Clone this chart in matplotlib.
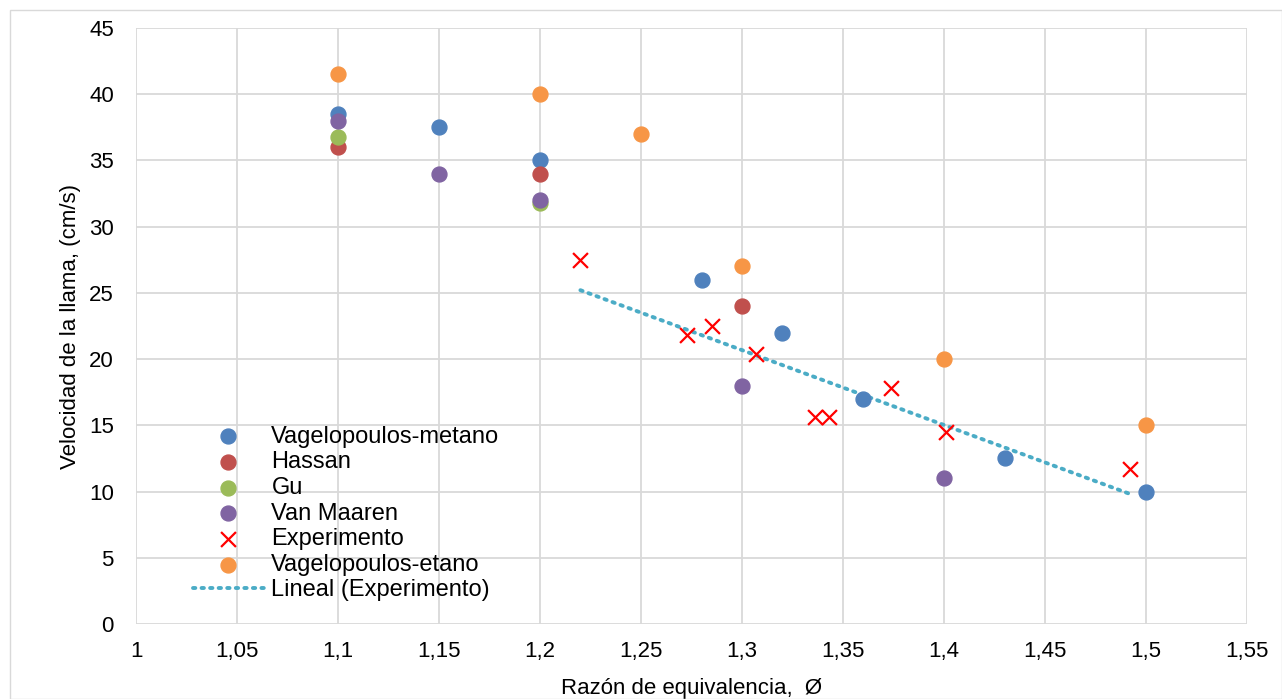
import numpy as np
import matplotlib
matplotlib.use("Agg")
import matplotlib.pyplot as plt
from matplotlib.ticker import FuncFormatter, MultipleLocator
from matplotlib.patches import Rectangle

plt.rcParams['font.family'] = ['Liberation Sans', 'DejaVu Sans']

vm_x = [1.10, 1.15, 1.20, 1.28, 1.32, 1.36, 1.43, 1.50]
vm_y = [38.5, 37.5, 35.0, 26.0, 22.0, 17.0, 12.5, 10.0]
ha_x = [1.10, 1.20, 1.30]
ha_y = [36.0, 34.0, 24.0]
gu_x = [1.10, 1.20]
gu_y = [36.8, 31.8]
vmr_x = [1.10, 1.15, 1.20, 1.30, 1.40]
vmr_y = [38.0, 34.0, 32.0, 18.0, 11.0]
exp_x = [1.220, 1.273, 1.285, 1.307, 1.336, 1.343, 1.374, 1.401, 1.492]
exp_y = [27.5, 21.8, 22.5, 20.4, 15.6, 15.6, 17.8, 14.5, 11.7]
ve_x = [1.10, 1.20, 1.25, 1.30, 1.40, 1.50]
ve_y = [41.5, 40.0, 37.0, 27.0, 20.0, 15.0]

fig = plt.figure(figsize=(12.82, 6.99), dpi=100)
ax = fig.add_axes([136/1282, 1-624/699, (1247-136)/1282, (624-28)/699])
fig.patches.append(Rectangle((10/1282, 0), 1-10/1282, 1-10/699, transform=fig.transFigure,
                             fill=False, edgecolor='#d9d9d9', linewidth=1.0))

ms = 115
ax.scatter(vm_x, vm_y, s=ms, color='#4f81bd', label='Vagelopoulos-metano', zorder=3)
ax.scatter(ha_x, ha_y, s=ms, color='#c0504d', label='Hassan', zorder=3)
ax.scatter(gu_x, gu_y, s=ms, color='#9bbb59', label='Gu', zorder=3)
ax.scatter(vmr_x, vmr_y, s=ms, color='#8064a2', label='Van Maaren', zorder=3)
ax.scatter(exp_x, exp_y, s=115, marker='x', color='#ff0000', linewidths=1.6, label='Experimento', zorder=4)
ax.scatter(ve_x, ve_y, s=ms, color='#f79646', label='Vagelopoulos-etano', zorder=3)

coef = np.polyfit(exp_x, exp_y, 1)
tx = np.array([min(exp_x), max(exp_x)])
ax.plot(tx, np.polyval(coef, tx), linestyle=(0, (0.6, 1.6)), color='#4bacc6', linewidth=2.8,
        dash_capstyle='round', label='Lineal (Experimento)', zorder=2)

ax.set_xlim(1.0, 1.55)
ax.set_ylim(0, 45)
ax.xaxis.set_major_locator(MultipleLocator(0.05))
ax.yaxis.set_major_locator(MultipleLocator(5))
ax.xaxis.set_major_formatter(FuncFormatter(lambda v, p: ('%.2f' % v).rstrip('0').rstrip('.').replace('.', ',')))
ax.grid(True, color='#d9d9d9', linewidth=1.3)
ax.set_axisbelow(True)
for s in ax.spines.values():
    s.set_visible(False)
ax.tick_params(length=0, labelsize=16)
ax.tick_params(axis='x', pad=12)
ax.tick_params(axis='y', pad=16)
ax.set_xlabel('Razón de equivalencia,  Ø', fontsize=16, labelpad=12)
ax.set_ylabel('Velocidad de la llama, (cm/s)', fontsize=16, labelpad=6)

leg = ax.legend(loc='upper left', bbox_to_anchor=(0.0513, 0.333), frameon=False, fontsize=17,
                handlelength=3.0, handletextpad=0.32, labelspacing=0.155, borderpad=0,
                borderaxespad=0, scatterpoints=1)

fig.savefig('out.png', dpi=100)
